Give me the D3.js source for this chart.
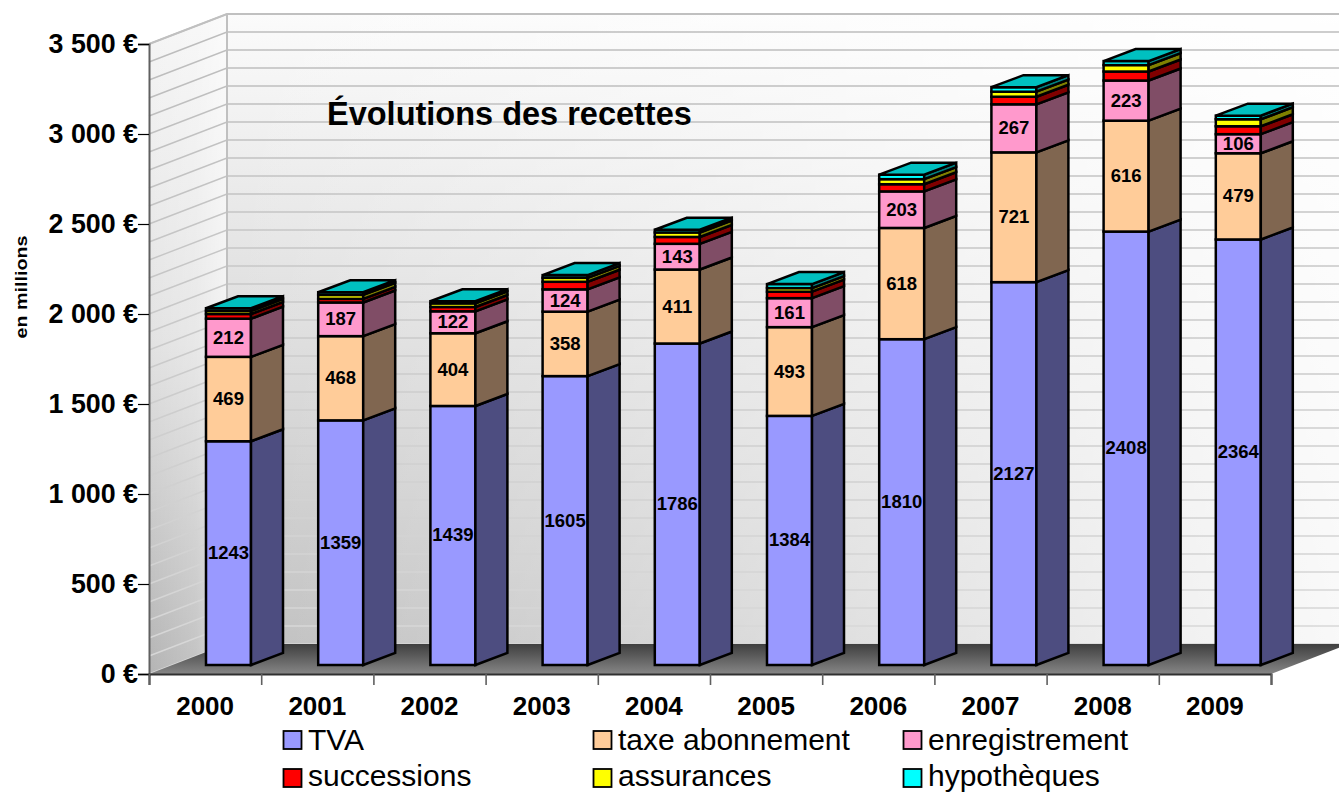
<!DOCTYPE html>
<html>
<head>
<meta charset="utf-8">
<script src="https://cdn.jsdelivr.net/npm/d3@7"></script>
<style>
  html, body { margin: 0; padding: 0; background: #fff; overflow: hidden; }
  text { font-family: "Liberation Sans", Arial, sans-serif; fill: #000; }
</style>
</head>
<body>
<script>
// data
var years = ["2000","2001","2002","2003","2004","2005","2006","2007","2008","2009"];
var tva = [1243,1359,1439,1605,1786,1384,1810,2127,2408,2364];
var taxe = [469,468,404,358,411,493,618,721,616,479];
var enregistrement = [212,187,122,124,143,161,203,267,223,106];
// these three have no printed labels, estimated from the band heights
var successions = [26,20,24,42,38,36,40,42,50,44];
var assurances = [17,22,20,22,25,20,28,28,36,39];
var hypotheques = [15,15,12,15,15,22,25,25,22,20];
var yTicks = [0,500,1000,1500,2000,2500,3000,3500];
var gridValues = d3.range(0, 3600, 100);

var names = ["TVA","taxe abonnement","enregistrement","successions","assurances","hypothèques"];
var colors = ["#9999ff","#ffcc99","#ff99cc","#ff0000","#ffff00","#00ffff"];
var sideColors = ["#4d4d80","#806650","#804d66","#800000","#808000","#008080"];
var topColors = ["#4d4d80","#806650","#804d66","#800000","#808000","#00c0c0"];
var showLabel = [true,true,true,false,false,false];
var seriesValues = [tva,taxe,enregistrement,successions,assurances,hypotheques];

var W = 1339, H = 792;
var left = 149, right = 1271, y0 = 674, yTop = 44;
var wallDx = 78, wallDy = -30;   // depth of the walls
var barDx = 32, barDy = -12;     // depth of a bar
var baseShift = -9;              // bars stand a bit behind the front edge
var barW = 45, barInset = 57;    // bars sit right of the band centre

var svg = d3.select("body").append("svg")
  .attr("width", W)
  .attr("height", H)
  .style("display", "block");

var y = d3.scaleLinear().domain([0, 3500]).range([y0, yTop]);
var xEdge = d3.scaleLinear().domain([0, years.length]).range([left, right]);
var x = d3.scaleBand().domain(years).range([left, right]);
var gridColor = d3.scaleLinear().domain([0, 3500]).range(["#d8d8d8", "#bcbcbc"]);
function barX(yr) { return x(yr) + barInset; }

// gradients
var defs = svg.append("defs");
function grad(id, x1, y1, x2, y2, stops) {
  var g = defs.append("linearGradient").attr("id", id)
    .attr("x1", x1).attr("y1", y1).attr("x2", x2).attr("y2", y2);
  stops.forEach(function(s) {
    g.append("stop").attr("offset", s[0]).attr("stop-color", s[1]).attr("stop-opacity", s[2] === undefined ? 1 : s[2]);
  });
}
grad("backWall", 0, 0, 0, 1, [[0,"#fbfbfb"],[1,"#c0c0c0"]]);
grad("backFade", 0, 0, 1, 0, [[0,"#fff",0],[1,"#fff",0.9]]);
grad("sideWall", 0, 0, 0, 1, [[0,"#f6f6f6"],[0.5,"#e2e2e2"],[1,"#b4b4b4"]]);
grad("sideFade", 0, 0, 1, 0, [[0,"#fff",0],[0.6,"#fff",0.2],[1,"#fff",0.55]]);
grad("floor", 0, 0, 0, 1, [[0,"#3f3f3f"],[1,"#868686"]]);

var polyLine = d3.line();
var wallTop = y(3500) + wallDy, wallBottom = y0 + wallDy;

// back wall
svg.append("rect")
  .attr("x", left + wallDx).attr("y", wallTop)
  .attr("width", W - left - wallDx + 2).attr("height", wallBottom - wallTop)
  .attr("fill", "url(#backWall)");
svg.append("rect")
  .attr("x", left + wallDx).attr("y", wallTop)
  .attr("width", W - left - wallDx + 2).attr("height", wallBottom - wallTop)
  .attr("fill", "url(#backFade)");

// side wall
var sidePts = [[left, yTop],[left + wallDx, wallTop],[left + wallDx, wallBottom],[left, y0]];
svg.append("path").attr("d", polyLine(sidePts) + "Z").attr("fill", "url(#sideWall)");
svg.append("path").attr("d", polyLine(sidePts) + "Z").attr("fill", "url(#sideFade)");

// grid lines, every 100
var grid = svg.append("g").attr("fill", "none").attr("stroke-width", 1.4);
gridValues.forEach(function(v) {
  grid.append("path")
    .attr("stroke", gridColor(v))
    .attr("d", polyLine([[left, y(v)],[left + wallDx, y(v) + wallDy],[W + 2, y(v) + wallDy]]));
});
svg.append("path")
  .attr("d", polyLine([[left, yTop],[left + wallDx, wallTop],[W + 2, wallTop]]))
  .attr("fill", "none").attr("stroke", "#c0c0c0").attr("stroke-width", 2);
svg.append("line")
  .attr("x1", left + wallDx).attr("x2", left + wallDx)
  .attr("y1", wallTop).attr("y2", wallBottom)
  .attr("stroke", "#c0c0c0").attr("stroke-width", 2);

// floor
svg.append("path")
  .attr("d", polyLine([[left, y0],[left + wallDx, wallBottom],[right + wallDx, wallBottom],[right, y0]]) + "Z")
  .attr("fill", "url(#floor)");

// stacked bars
var stack = svg.append("g").attr("stroke", "#000").attr("stroke-width", 2.5).attr("stroke-linejoin", "miter");
years.forEach(function(yr, i) {
  var bx = barX(yr), sum = 0;
  seriesValues.forEach(function(vals, s) {
    var yBottom = y(sum) + baseShift;
    sum += vals[i];
    var yUp = y(sum) + baseShift;
    stack.append("rect")
      .attr("x", bx).attr("y", yUp)
      .attr("width", barW).attr("height", yBottom - yUp)
      .attr("fill", colors[s]);
    stack.append("path")
      .attr("d", polyLine([[bx + barW, yBottom],[bx + barW + barDx, yBottom + barDy],[bx + barW + barDx, yUp + barDy],[bx + barW, yUp]]) + "Z")
      .attr("fill", sideColors[s]);
    if (s === seriesValues.length - 1) {
      stack.append("path")
        .attr("d", polyLine([[bx, yUp],[bx + barDx, yUp + barDy],[bx + barW + barDx, yUp + barDy],[bx + barW, yUp]]) + "Z")
        .attr("fill", topColors[s]);
    }
  });
});

// value labels
years.forEach(function(yr, i) {
  var sum = 0;
  seriesValues.forEach(function(vals, s) {
    var mid = sum + vals[i] / 2;
    sum += vals[i];
    if (!showLabel[s]) return;
    svg.append("text")
      .attr("x", barX(yr) + barW / 2)
      .attr("y", y(mid) + baseShift + 6)
      .attr("text-anchor", "middle")
      .attr("font-size", 18.5)
      .attr("font-weight", "bold")
      .text(vals[i]);
  });
});

// axes
var yAxis = svg.append("g")
  .attr("transform", "translate(" + left + ",0)")
  .call(d3.axisLeft(y).tickValues(yTicks).tickSize(11).tickPadding(0)
    .tickFormat(function(d) { return d3.format(",")(d).replace(",", " ") + " €"; }));
yAxis.select(".domain").attr("stroke", "#606060").attr("stroke-width", 2);
yAxis.selectAll(".tick line").attr("stroke", "#000").attr("stroke-width", 1.2);
yAxis.selectAll("text")
  .attr("font-size", 26.8).attr("font-weight", "bold")
  .attr("font-family", null).attr("fill", "#000");

var xAxis = svg.append("g")
  .attr("transform", "translate(0," + y0 + ")")
  .call(d3.axisBottom(xEdge).tickValues(d3.range(0, years.length + 1)).tickSize(11).tickFormat(""));
xAxis.select(".domain").attr("stroke", "#303030").attr("stroke-width", 2);
xAxis.selectAll(".tick line").attr("stroke", "#606060").attr("stroke-width", 1.6);

var xLabels = svg.append("g")
  .attr("transform", "translate(0," + y0 + ")")
  .call(d3.axisBottom(x).tickSize(0).tickPadding(23));
xLabels.select(".domain").remove();
xLabels.selectAll("text")
  .attr("font-size", 26).attr("font-weight", "bold")
  .attr("font-family", null).attr("fill", "#000");

// axis title and chart title
svg.append("text")
  .attr("transform", "translate(27,287) rotate(-90)")
  .attr("text-anchor", "middle")
  .attr("font-size", 16.5)
  .attr("font-weight", "bold")
  .attr("textLength", 103)
  .attr("lengthAdjust", "spacingAndGlyphs")
  .text("en millions");

svg.append("text")
  .attr("x", 327).attr("y", 125)
  .attr("font-size", 32.5)
  .attr("font-weight", "bold")
  .text("Évolutions des recettes");

// legend
var legendX = [283, 593, 903], legendY = [731, 769], legendBase = [750, 785.5];
names.forEach(function(n, i) {
  var row = Math.floor(i / 3), lx = legendX[i % 3];
  svg.append("rect")
    .attr("x", lx + 0.5).attr("y", legendY[row])
    .attr("width", 18).attr("height", 18)
    .attr("fill", colors[i])
    .attr("stroke", "#000").attr("stroke-width", 1.8);
  svg.append("text")
    .attr("x", lx + 25).attr("y", legendBase[row])
    .attr("font-size", 30)
    .text(n);
});
</script>
</body>
</html>
